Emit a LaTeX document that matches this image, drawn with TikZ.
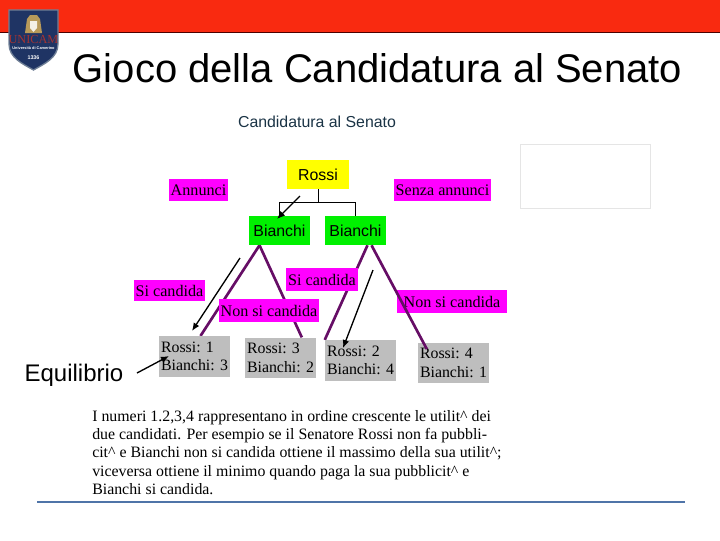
\documentclass[tikz,border=0pt]{standalone}
\usepackage{fontspec}
\setmainfont{Liberation Serif}
\setsansfont{Liberation Sans}
\usetikzlibrary{positioning, arrows.meta, backgrounds}
\definecolor{headred}{HTML}{F92A10}
\definecolor{shieldblue}{HTML}{1F3464}
\definecolor{shieldedge}{HTML}{6F7F96}
\definecolor{crestgold}{HTML}{B89A5A}
\definecolor{labelpink}{HTML}{FF00FF}
\definecolor{rossiyellow}{HTML}{FFFF00}
\definecolor{bianchigreen}{HTML}{00F000}
\definecolor{payoffgray}{HTML}{BEBEBE}
\definecolor{branchpurple}{HTML}{660E66}
\definecolor{footblue}{HTML}{4F74A8}
\definecolor{captionblue}{HTML}{1A3345}
\begin{document}
\begin{tikzpicture}[
        x=0.75pt, y=-0.75pt,
        player/.style={inner sep=0pt, font=\sffamily\fontsize{11.9}{13}\selectfont},
        move/.style={fill=labelpink, inner sep=0pt, font=\fontsize{12.1}{13}\selectfont},
        payoff/.style={fill=payoffgray, inner sep=0pt, minimum width=53.25pt, minimum height=30.5pt,
                      align=left, font=\fontsize{11.9}{14}\selectfont},
        branch/.style={branchpurple, line width=2pt},
        tree/.style={black, line width=0.6pt},
        arrow/.style={-{Latex[length=6pt,width=5pt]}, line width=1pt},
    ]
        \useasboundingbox (0,0) rectangle (720,540);

        % header and footer
        \fill[headred] (0,0) rectangle (720,32);
        \draw[black!70!red, line width=0.5pt] (0,32) -- (720,32);
        \draw[footblue, line width=1.4pt] (37,502) -- (685,502);

        % logo
        \path[fill=shieldblue, draw=shieldedge, line width=1pt]
            (9,10) -- (58,10) -- (58,44) .. controls (58,58) and (44,64) .. (33.5,70)
            .. controls (23,64) and (9,58) .. (9,44) -- cycle;
        \fill[crestgold] (27,19) -- (30,15) -- (37,15) -- (40,19) -- (42,33) -- (25,33) -- cycle;
        \fill[white!85!crestgold] (30,21) -- (37,21) -- (37,28) -- (33.5,32) -- (30,28) -- cycle;
        \node[inner sep=0pt, text=red!55!black!80!white, font=\fontsize{9.2}{10}\selectfont] (unicam) at (33.5,39.5) {UNICAM};
        \node[inner sep=0pt, text=white, font=\sffamily\bfseries\fontsize{2.9}{3}\selectfont, below=2pt of unicam] (unicamsub) {Università di Camerino};
        \node[inner sep=0pt, text=white, font=\sffamily\bfseries\fontsize{4}{4}\selectfont] (unicamyear) at (33.5,57.5) {1336};

        % titles
        \node[inner sep=0pt, font=\sffamily\fontsize{30}{32}\selectfont] (title) at (377.5,68) {Gioco della Candidatura al Senato};
        \node[inner sep=0pt, text=captionblue, font=\sffamily\fontsize{11.9}{13}\selectfont] (caption) at (317,122) {Candidatura al Senato};
        \draw[black!10, line width=0.7pt] (520,144) rectangle (650,208);

        % players
        \node[player, fill=rossiyellow, minimum width=46.5pt, minimum height=21.75pt] (rossi) at (318,174.5) {Rossi};
        \node[player, fill=bianchigreen, minimum width=45.75pt, minimum height=21.75pt] (bianchiA) at (279.5,230.5) {Bianchi};
        \node[player, fill=bianchigreen, minimum width=45.75pt, minimum height=21.75pt] (bianchiB) at (355.5,230.5) {Bianchi};

        % moves
        \node[move, minimum width=44.25pt, minimum height=16.5pt] (annunci) at (198.5,190) {Annunci};
        \node[move, minimum width=72.75pt, minimum height=16.5pt] (senza) at (442.5,190) {Senza annunci};
        \node[move, minimum width=53.25pt, minimum height=16pt] (siA) at (169.5,290.5) {Si candida};
        \node[move, minimum width=75pt, minimum height=17.25pt] (nonA) at (269,310.5) {Non si candida};
        \node[move, minimum width=54pt, minimum height=17.25pt] (siB) at (322,279.5) {Si candida};
        \node[move, minimum width=82.5pt, minimum height=17.25pt] (nonB) at (452,301.5) {Non si candida\hspace{15pt}};

        % outcomes
        \node[payoff] (esitoA) at (194.5,356.5) {Rossi: 1\\Bianchi: 3};
        \node[payoff] (esitoB) at (280.5,358) {Rossi: 3\\Bianchi: 2};
        \node[payoff] (esitoC) at (360.5,360.5) {Rossi: 2\\Bianchi: 4};
        \node[payoff] (esitoD) at (453.5,363) {Rossi: 4\\Bianchi: 1};

        \node[inner sep=0pt, font=\sffamily\fontsize{18}{20}\selectfont] (equilibrio) at (74,375.5) {Equilibrio};

        \node[inner sep=0pt, anchor=north west, align=left, font=\fontsize{11.9}{13.75}\selectfont] (testo) at (92,410)
            {I numeri 1.2,3,4 rappresentano in ordine crescente le utilit\^{} dei\\
             due candidati. Per esempio se il Senatore Rossi non fa pubbli-\\
             cit\^{} e Bianchi non si candida ottiene il massimo della sua utilit\^{};\\
             viceversa ottiene il minimo quando paga la sua pubblicit\^{} e\\
             Bianchi si candida.};

        % tree lines
        \begin{scope}[on background layer]
            \draw[branch] ([xshift=-15pt]bianchiA.south) -- ([xshift=4.5pt]esitoA.north);
            \draw[branch] ([xshift=-15pt]bianchiA.south) -- ([xshift=16pt]esitoB.north);
            \draw[branch] ([xshift=9pt]bianchiB.south) -- (esitoC.north west);
        \end{scope}
        \draw[branch] ([xshift=12pt]bianchiB.south) -- ([xshift=-20pt,yshift=-5pt]esitoD.north);
        \draw[tree] (rossi.south) -- ++(0,13) -| (bianchiA.north);
        \draw[tree] (rossi.south) -- ++(0,13) -| (bianchiB.north);

        % equilibrium arrows
        \coordinate (startA) at (300,196);
        \coordinate (endA) at (277,219);
        \coordinate (startB) at (240,258);
        \coordinate (endB) at (192,331);
        \coordinate (startC) at (373,270);
        \coordinate (endC) at (343,348);
        \coordinate (startD) at (137,373);
        \coordinate (endD) at (169,356);
        \draw[arrow] (startA) -- (endA);
        \draw[arrow] (startB) -- (endB);
        \draw[arrow] (startC) -- (endC);
        \draw[arrow] (startD) -- (endD);
    \end{tikzpicture}
\end{document}
